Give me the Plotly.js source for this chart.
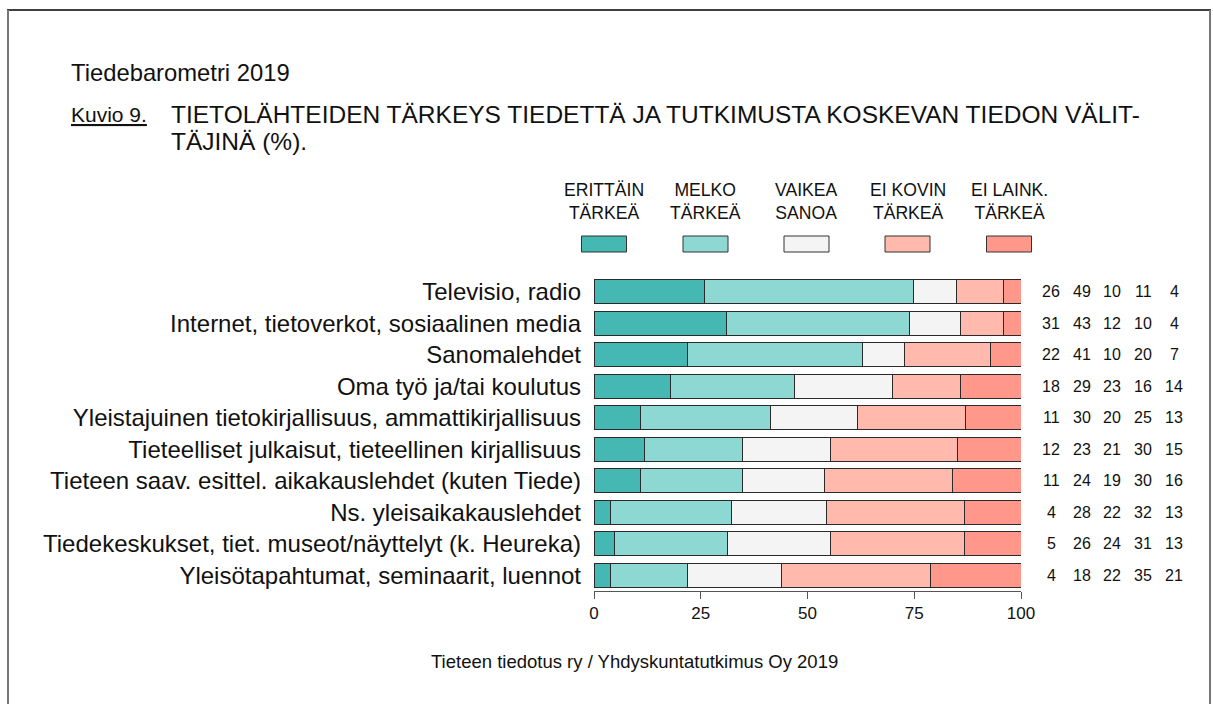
<!DOCTYPE html>
<html>
<head>
<meta charset="utf-8">
<script src="https://cdn.plot.ly/plotly-3.0.1.min.js"></script>
<style>
html,body{margin:0;padding:0;background:#fff;}
#chart{width:1213px;height:704px;}
</style>
</head>
<body>
<div id="chart"></div>
<script>
// ---- data ----
var categories = [
  "Televisio, radio",
  "Internet, tietoverkot, sosiaalinen media",
  "Sanomalehdet",
  "Oma työ ja/tai koulutus",
  "Yleistajuinen tietokirjallisuus, ammattikirjallisuus",
  "Tieteelliset julkaisut, tieteellinen kirjallisuus",
  "Tieteen saav. esittel. aikakauslehdet (kuten Tiede)",
  "Ns. yleisaikakauslehdet",
  "Tiedekeskukset, tiet. museot/näyttelyt (k. Heureka)",
  "Yleisötapahtumat, seminaarit, luennot"
];
var seriesNames = ["ERITTÄIN<br>TÄRKEÄ", "MELKO<br>TÄRKEÄ", "VAIKEA<br>SANOA", "EI KOVIN<br>TÄRKEÄ", "EI LAINK.<br>TÄRKEÄ"];
// percentages (the printed figures are these rounded)
var erittainTarkea = [25.9, 31.0, 21.9, 18.0, 11.0, 11.8, 10.8, 3.9, 4.8, 3.9];
var melkoTarkea    = [49.0, 42.8, 41.0, 28.9, 30.4, 22.9, 23.9, 28.3, 26.4, 18.0];
var vaikeaSanoa    = [9.9, 12.0, 9.9, 23.0, 20.3, 20.7, 19.2, 22.2, 24.2, 22.0];
var eiKovinTarkea  = [11.1, 10.1, 20.1, 16.0, 25.4, 29.8, 30.0, 32.3, 31.3, 34.9];
var eiLainkTarkea  = [4.1, 4.1, 7.1, 14.1, 12.9, 14.8, 16.1, 13.3, 13.3, 21.2];
var xTicks = [0, 25, 50, 75, 100];

var headerText = "Tiedebarometri 2019";
var figureLabel = "Kuvio 9.";
var titleLines = ["TIETOLÄHTEIDEN TÄRKEYS TIEDETTÄ JA TUTKIMUSTA KOSKEVAN TIEDON VÄLIT-", "TÄJINÄ (%)."];
var sourceText = "Tieteen tiedotus ry / Yhdyskuntatutkimus Oy 2019";

// ---- styles ----
var colors = ["#45b8b4", "#8dd8d3", "#f4f4f4", "#ffb9ad", "#ff978a"];
var FONT = "Liberation Sans, Arial, sans-serif";
var W = 1213, H = 704;
var ML = 594, MR = 192, MT = 276, MB = 113;
var PW = W - ML - MR, PH = H - MT - MB;
function px(x){ return (x - ML) / PW; }
function py(y){ return (H - MB - y) / PH; }

var allSeries = [erittainTarkea, melkoTarkea, vaikeaSanoa, eiKovinTarkea, eiLainkTarkea];

var traces = allSeries.map(function(vals, i){
  return {
    type: "bar",
    orientation: "h",
    name: seriesNames[i],
    x: vals,
    y: categories,
    width: 0.77,
    marker: {color: colors[i], line: {color: "#2a2a2a", width: 1}},
    showlegend: false,
    hoverinfo: "x+y"
  };
});

var annotations = [];
var shapes = [];

// header texts
annotations.push({xref:"paper", yref:"paper", x:px(69), y:py(72), xanchor:"left", yanchor:"middle",
  text: headerText, showarrow:false, font:{family:FONT, size:23.8, color:"#111"}});
annotations.push({xref:"paper", yref:"paper", x:px(69), y:py(114), xanchor:"left", yanchor:"middle",
  text: "<u>" + figureLabel + "</u>", showarrow:false, font:{family:FONT, size:21, color:"#111"}});
titleLines.forEach(function(t, k){
  annotations.push({xref:"paper", yref:"paper", x:px(169), y:py(114 + 27*k), xanchor:"left", yanchor:"middle", align:"left",
    text: t, showarrow:false, font:{family:FONT, size:24.5, color:"#111"}});
});
annotations.push({xref:"paper", yref:"paper", x:px(634), y:py(661), xanchor:"center", yanchor:"middle",
  text: sourceText, showarrow:false, font:{family:FONT, size:18.5, color:"#111"}});

// custom legend
var legCenters = [604, 705.5, 806.5, 907.5, 1009];
for (var i = 0; i < seriesNames.length; i++) {
  annotations.push({xref:"paper", yref:"paper", x:px(legCenters[i]), y:py(201.5), xanchor:"center", yanchor:"middle",
    align:"center", text: seriesNames[i], showarrow:false, font:{family:FONT, size:17.6, color:"#111"}});
  shapes.push({type:"rect", xref:"paper", yref:"paper", x0:px(legCenters[i]-22.5), x1:px(legCenters[i]+22.5),
    y0:py(252), y1:py(236), fillcolor: colors[i], line:{color:"#333", width:1}});
}

// printed values on the right
var colCenters = [1051, 1082, 1111.5, 1143, 1174];
for (var s = 0; s < allSeries.length; s++) {
  for (var r = 0; r < categories.length; r++) {
    annotations.push({xref:"paper", yref:"y", x:px(colCenters[s]), y:categories[r], xanchor:"center", yanchor:"middle",
      text: String(Math.round(allSeries[s][r])), showarrow:false, font:{family:FONT, size:16, color:"#111"}});
  }
}

// frame
shapes.push({type:"line", xref:"paper", yref:"paper", x0:px(7), x1:px(1211), y0:py(10), y1:py(10), line:{color:"#000", width:1.5}});
shapes.push({type:"line", xref:"paper", yref:"paper", x0:px(8), x1:px(8), y0:py(10), y1:py(710), line:{color:"#777", width:2}});
shapes.push({type:"line", xref:"paper", yref:"paper", x0:px(1210), x1:px(1210), y0:py(10), y1:py(710), line:{color:"#777", width:2}});

var layout = {
  width: W, height: H,
  margin: {l: ML, r: MR, t: MT, b: MB, pad: 0},
  paper_bgcolor: "#fff", plot_bgcolor: "#fff",
  barmode: "stack",
  showlegend: false,
  font: {family: FONT, color: "#111"},
  xaxis: {
    range: [0, 100], tickvals: xTicks, ticktext: xTicks.map(String),
    showgrid: false, zeroline: false, showline: true, linecolor: "#555", linewidth: 1,
    ticks: "outside", ticklen: 7, tickcolor: "#555", tickwidth: 1,
    tickfont: {family: FONT, size: 17, color: "#111"}, fixedrange: true
  },
  yaxis: {
    type: "category", categoryorder: "array", categoryarray: categories,
    range: [categories.length - 0.5, -0.5],
    showgrid: false, zeroline: false, showline: false, ticks: "",
    ticklabelstandoff: 12,
    tickfont: {family: FONT, size: 24, color: "#111"}, fixedrange: true
  },
  annotations: annotations,
  shapes: shapes
};

Plotly.newPlot("chart", traces, layout, {displayModeBar: false, staticPlot: true});
</script>
</body>
</html>
